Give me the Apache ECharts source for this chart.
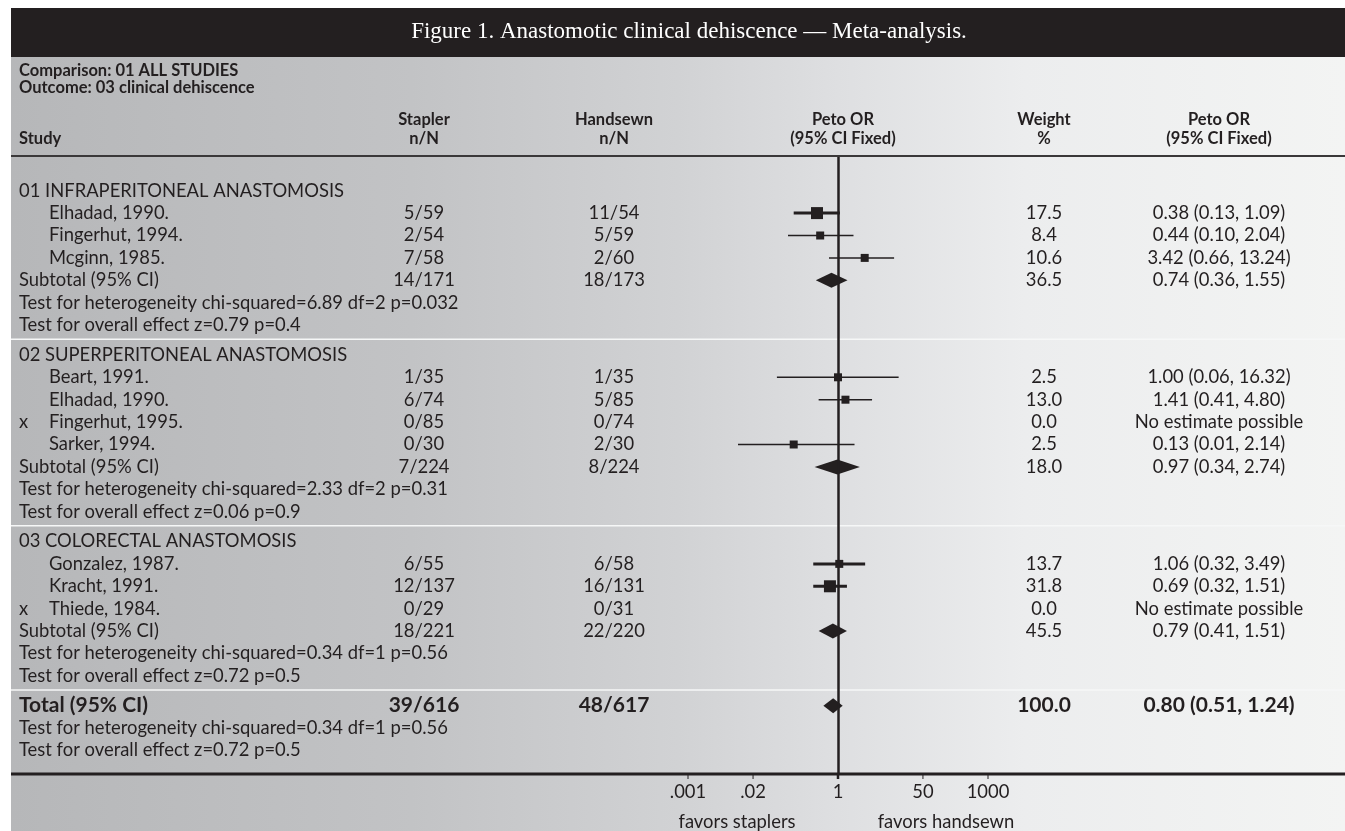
<!DOCTYPE html>
<html>
<head>
<meta charset="utf-8">
<script src="https://cdn.jsdelivr.net/npm/echarts@6/dist/echarts.min.js"></script>
<style>
  html, body { margin: 0; padding: 0; background: #fff; }
  #chart { width: 1345px; height: 831px; }
</style>
</head>
<body>
<div id="chart"></div>
<script>
// data
const groups = ['01 INFRAPERITONEAL ANASTOMOSIS', '02 SUPERPERITONEAL ANASTOMOSIS', '03 COLORECTAL ANASTOMOSIS'];

const studies = ['Elhadad, 1990.', 'Fingerhut, 1994.', 'Mcginn, 1985.', 'Beart, 1991.', 'Elhadad, 1990.',
  'Fingerhut, 1995.', 'Sarker, 1994.', 'Gonzalez, 1987.', 'Kracht, 1991.', 'Thiede, 1984.'];
const studyGroup = [0, 0, 0, 1, 1, 1, 1, 2, 2, 2];
const studyExcluded = [false, false, false, false, false, true, false, false, false, true];
const staplerN = ['5/59', '2/54', '7/58', '1/35', '6/74', '0/85', '0/30', '6/55', '12/137', '0/29'];
const handsewnN = ['11/54', '5/59', '2/60', '1/35', '5/85', '0/74', '2/30', '6/58', '16/131', '0/31'];
const studyWeight = [17.5, 8.4, 10.6, 2.5, 13.0, 0.0, 2.5, 13.7, 31.8, 0.0];
const studyOR = [0.38, 0.44, 3.42, 1.00, 1.41, null, 0.13, 1.06, 0.69, null];
const studyLow = [0.13, 0.10, 0.66, 0.06, 0.41, null, 0.01, 0.32, 0.32, null];
const studyHigh = [1.09, 2.04, 13.24, 16.32, 4.80, null, 2.14, 3.49, 1.51, null];

const subStapler = ['14/171', '7/224', '18/221'];
const subHandsewn = ['18/173', '8/224', '22/220'];
const subWeight = [36.5, 18.0, 45.5];
const subOR = [0.74, 0.97, 0.79];
const subLow = [0.36, 0.34, 0.41];
const subHigh = [1.55, 2.74, 1.51];
const subHetero = ['chi-squared=6.89 df=2 p=0.032', 'chi-squared=2.33 df=2 p=0.31', 'chi-squared=0.34 df=1 p=0.56'];
const subEffect = ['z=0.79 p=0.4', 'z=0.06 p=0.9', 'z=0.72 p=0.5'];

const totalStapler = '39/616';
const totalHandsewn = '48/617';
const totalWeight = 100.0;
const totalOR = [0.80, 0.51, 1.24];
const totalHetero = 'chi-squared=0.34 df=1 p=0.56';
const totalEffect = 'z=0.72 p=0.5';

const axisTicks = [0.001, 0.02, 1, 50, 1000];
const axisTickLabels = ['.001', '.02', '1', '50', '1000'];

// layout
const ink = '#231f20';
const BODY = 'Lato, "Noto Sans", sans-serif';
const ROW0 = 190.7, PITCH = 22.4, TOP = 157, AXIS_Y = 774, SECTION_GAP = 0.33;
const yMin = (TOP - ROW0) / PITCH;
const yMax = (AXIS_Y - ROW0) / PITCH;
const COL = { left: 19, indent: 49, stapler: 424, handsewn: 614, weight: 1044, or: 1219 };

const fmtOR = (e, l, h) => e == null ? 'No estimate possible'
  : e.toFixed(2) + ' (' + l.toFixed(2) + ', ' + h.toFixed(2) + ')';

// build table rows
const rows = [];
groups.forEach((g, gi) => {
  rows.push({ kind: 'group', sec: gi, text: g });
  studies.forEach((s, si) => { if (studyGroup[si] === gi) rows.push({ kind: 'study', sec: gi, s: si }); });
  rows.push({ kind: 'subtotal', sec: gi, g: gi });
  rows.push({ kind: 'note', sec: gi, text: 'Test for heterogeneity ' + subHetero[gi] });
  rows.push({ kind: 'note', sec: gi, text: 'Test for overall effect ' + subEffect[gi] });
});
rows.push({ kind: 'total', sec: 3 });
rows.push({ kind: 'note', sec: 3, text: 'Test for heterogeneity ' + totalHetero });
rows.push({ kind: 'note', sec: 3, text: 'Test for overall effect ' + totalEffect });
rows.forEach((r, i) => { r.slot = i + r.sec * SECTION_GAP; });

const textData = rows.map((r, i) => [1, r.slot, i]);

const markData = [];
rows.forEach(r => {
  if (r.kind === 'study' && studyOR[r.s] != null) {
    markData.push([studyOR[r.s], r.slot, studyLow[r.s], studyHigh[r.s], studyWeight[r.s], 0]);
  } else if (r.kind === 'subtotal') {
    markData.push([subOR[r.g], r.slot, subLow[r.g], subHigh[r.g], subWeight[r.g], 1]);
  } else if (r.kind === 'total') {
    markData.push([totalOR[0], r.slot, totalOR[1], totalOR[2], totalWeight, 1]);
  }
});

const tickData = axisTicks.map((v, i) => [v, yMax, i]);

function txt(x, y, s, align, bold) {
  return {
    type: 'text',
    style: {
      x: x, y: y, text: s, align: align, verticalAlign: 'middle', fill: ink,
      fontFamily: BODY, fontSize: bold ? 21 : 18.4, fontWeight: bold ? 'bold' : 'normal'
    }
  };
}

function renderRow(params, api) {
  const r = rows[api.value(2)];
  const y = api.coord([1, r.slot])[1];
  const kids = [];
  if ((r.kind === 'group' && r.sec > 0) || r.kind === 'total') {
    const ly = api.coord([1, r.slot - 0.7])[1];
    kids.push({ type: 'line', shape: { x1: 11, y1: ly, x2: 1345, y2: ly }, style: { stroke: '#f6f7f7', lineWidth: 1.5 } });
  }
  if (r.kind === 'group' || r.kind === 'note') {
    kids.push(txt(COL.left, y, r.text, 'left', false));
  } else if (r.kind === 'study') {
    const s = r.s;
    if (studyExcluded[s]) kids.push(txt(COL.left, y, 'x', 'left', false));
    kids.push(txt(COL.indent, y, studies[s], 'left', false));
    kids.push(txt(COL.stapler, y, staplerN[s], 'center', false));
    kids.push(txt(COL.handsewn, y, handsewnN[s], 'center', false));
    kids.push(txt(COL.weight, y, studyWeight[s].toFixed(1), 'center', false));
    kids.push(txt(COL.or, y, fmtOR(studyOR[s], studyLow[s], studyHigh[s]), 'center', false));
  } else if (r.kind === 'subtotal') {
    const g = r.g;
    kids.push(txt(COL.left, y, 'Subtotal (95% CI)', 'left', false));
    kids.push(txt(COL.stapler, y, subStapler[g], 'center', false));
    kids.push(txt(COL.handsewn, y, subHandsewn[g], 'center', false));
    kids.push(txt(COL.weight, y, subWeight[g].toFixed(1), 'center', false));
    kids.push(txt(COL.or, y, fmtOR(subOR[g], subLow[g], subHigh[g]), 'center', false));
  } else if (r.kind === 'total') {
    kids.push(txt(COL.left, y, 'Total (95% CI)', 'left', true));
    kids.push(txt(COL.stapler, y, totalStapler, 'center', true));
    kids.push(txt(COL.handsewn, y, totalHandsewn, 'center', true));
    kids.push(txt(COL.weight, y, totalWeight.toFixed(1), 'center', true));
    kids.push(txt(COL.or, y, fmtOR(totalOR[0], totalOR[1], totalOR[2]), 'center', true));
  }
  return { type: 'group', children: kids };
}

function renderMark(params, api) {
  const est = api.coord([api.value(0), api.value(1)]);
  const lo = api.coord([api.value(2), api.value(1)]);
  const hi = api.coord([api.value(3), api.value(1)]);
  const w = api.value(4);
  if (api.value(5) === 1) {
    const h = 7.5;
    return {
      type: 'polygon',
      shape: { points: [[lo[0], est[1]], [est[0], est[1] - h], [hi[0], est[1]], [est[0], est[1] + h]] },
      style: { fill: ink }
    };
  }
  const s = w > 15 ? 12 : 8;
  return {
    type: 'group',
    children: [
      { type: 'line', shape: { x1: lo[0], y1: est[1], x2: hi[0], y2: est[1] }, style: { stroke: ink, lineWidth: w > 13.5 ? 3 : 1.5 } },
      { type: 'rect', shape: { x: est[0] - s / 2, y: est[1] - s / 2, width: s, height: s }, style: { fill: ink } }
    ]
  };
}

function renderTick(params, api) {
  const p = api.coord([api.value(0), api.value(1)]);
  return {
    type: 'group',
    children: [
      { type: 'line', shape: { x1: p[0], y1: p[1], x2: p[0], y2: p[1] + 5 }, style: { stroke: ink, lineWidth: api.value(0) === 1 ? 2.5 : 1 } },
      txt(p[0], p[1] + 18, axisTickLabels[api.value(2)], 'center', false)
    ]
  };
}

function head(x, y, s, align) {
  return {
    type: 'text', z: 5, x: x, y: y,
    style: { text: s, align: align, verticalAlign: 'middle', fill: ink, fontFamily: BODY, fontSize: 16.5, fontWeight: 'bold' }
  };
}

const chart = echarts.init(document.getElementById('chart'), null, { renderer: 'canvas' });
chart.setOption({
  animation: false,
  backgroundColor: '#ffffff',
  graphic: [
    {
      type: 'rect', z: -10, shape: { x: 11, y: 57, width: 1334, height: 774 },
      style: {
        fill: new echarts.graphic.LinearGradient(0, 0, 1, 0, [
          { offset: 0, color: '#b6b7b9' },
          { offset: 0.3, color: '#c2c3c5' },
          { offset: 0.5, color: '#d1d2d4' },
          { offset: 0.62, color: '#dedfe1' },
          { offset: 0.76, color: '#ecedee' },
          { offset: 1, color: '#f3f4f3' }
        ])
      }
    },
    { type: 'rect', z: -5, shape: { x: 11, y: 8, width: 1334, height: 49 }, style: { fill: ink } },
    {
      type: 'text', z: 5, x: 689, y: 32,
      style: {
        text: 'Figure 1. Anastomotic clinical dehiscence \u2014 Meta-analysis.', align: 'center', verticalAlign: 'middle',
        fill: '#ffffff', fontFamily: '"Liberation Serif", serif', fontSize: 23
      }
    },
    head(19, 71, 'Comparison: 01 ALL STUDIES', 'left'),
    head(19, 87.5, 'Outcome: 03 clinical dehiscence', 'left'),
    head(19, 139, 'Study', 'left'),
    head(COL.stapler, 120, 'Stapler', 'center'),
    head(COL.stapler, 139, 'n/N', 'center'),
    head(COL.handsewn, 120, 'Handsewn', 'center'),
    head(COL.handsewn, 139, 'n/N', 'center'),
    head(843, 120, 'Peto OR', 'center'),
    head(843, 139, '(95% CI Fixed)', 'center'),
    head(COL.weight, 120, 'Weight', 'center'),
    head(COL.weight, 139, '%', 'center'),
    head(COL.or, 120, 'Peto OR', 'center'),
    head(COL.or, 139, '(95% CI Fixed)', 'center'),
    { type: 'line', z: 4, shape: { x1: 11, y1: 156, x2: 1345, y2: 156 }, style: { stroke: '#3a3839', lineWidth: 2 } },
    { type: 'line', z: 4, shape: { x1: 11, y1: AXIS_Y, x2: 1345, y2: AXIS_Y }, style: { stroke: ink, lineWidth: 3 } },
    {
      type: 'text', z: 5, x: 737, y: 822,
      style: { text: 'favors staplers', align: 'center', verticalAlign: 'middle', fill: ink, fontFamily: BODY, fontSize: 18.4 }
    },
    {
      type: 'text', z: 5, x: 946, y: 822,
      style: { text: 'favors handsewn', align: 'center', verticalAlign: 'middle', fill: ink, fontFamily: BODY, fontSize: 18.4 }
    }
  ],
  grid: { left: 688, width: 300, top: TOP, height: AXIS_Y - TOP },
  xAxis: { type: 'log', logBase: 10, min: 0.001, max: 1000, show: false },
  yAxis: { type: 'value', inverse: true, min: yMin, max: yMax, show: false },
  series: [
    {
      type: 'custom', name: 'table', clip: false, silent: true,
      encode: { x: 0, y: 1 }, data: textData, renderItem: renderRow
    },
    {
      type: 'custom', name: 'Peto OR', clip: false, silent: true, z: 3,
      encode: { x: 0, y: 1 }, data: markData, renderItem: renderMark,
      markLine: {
        silent: true, symbol: 'none', label: { show: false },
        lineStyle: { color: ink, width: 2.5, type: 'solid' },
        data: [{ xAxis: 1 }]
      }
    },
    {
      type: 'custom', name: 'ticks', clip: false, silent: true, z: 4,
      encode: { x: 0, y: 1 }, data: tickData, renderItem: renderTick
    }
  ]
});
</script>
</body>
</html>
